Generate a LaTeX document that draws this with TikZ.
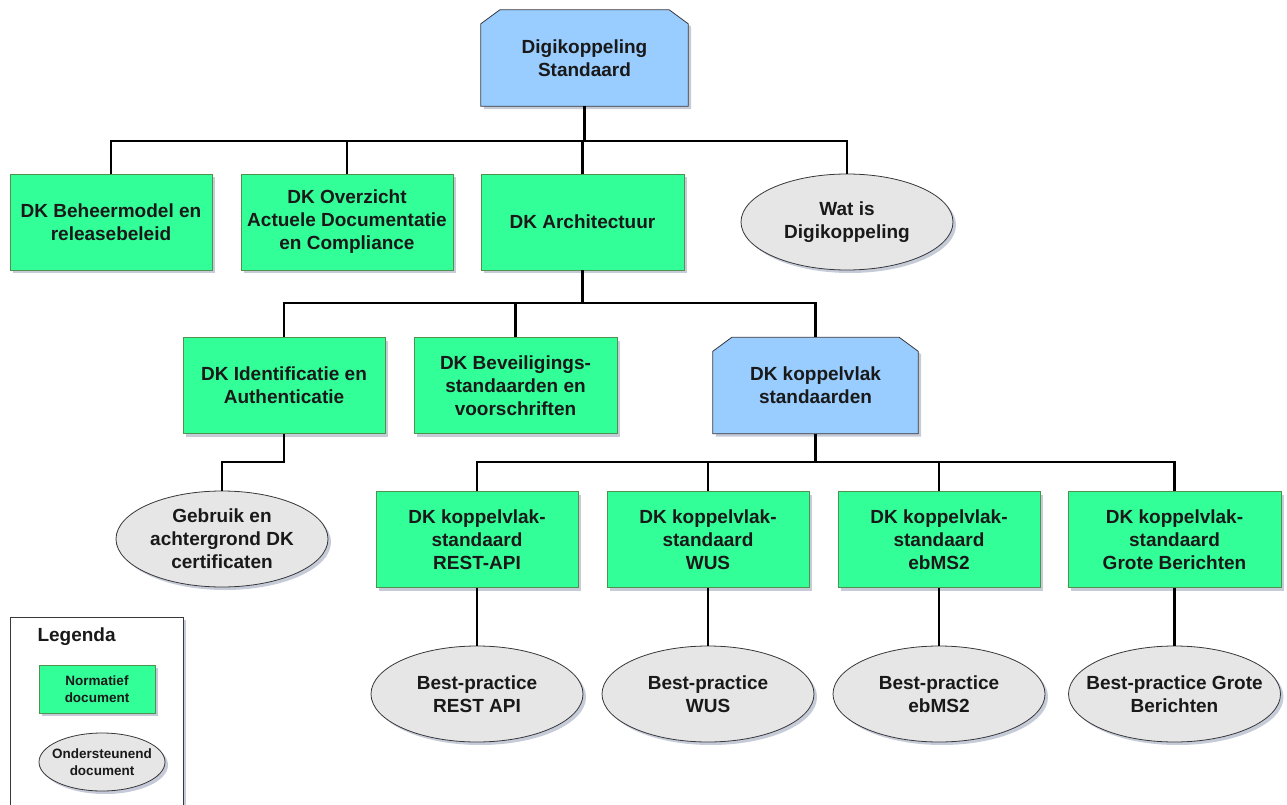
\documentclass[tikz,border=0pt]{standalone}
\usepackage{fontspec}
\setmainfont{Liberation Sans}
\usetikzlibrary{calc}
\usetikzlibrary{shapes.geometric}
\usetikzlibrary{shadows}
\usetikzlibrary{backgrounds}

\definecolor{normgroen}{RGB}{51,255,153}
\definecolor{normrand}{RGB}{80,145,80}
\definecolor{hoofdblauw}{RGB}{153,204,255}
\definecolor{ondgrijs}{RGB}{230,230,230}
\definecolor{rand}{RGB}{55,55,60}
\definecolor{schaduw}{RGB}{160,168,190}

\tikzset{
  schaduwtje/.style={drop shadow={shadow xshift=3pt, shadow yshift=-3pt, fill=schaduw, opacity=0.6}},
  tekst/.style={align=center, text=black!90, font=\bfseries\fontsize{19}{23}\selectfont},
  normdoc/.style={tekst, rectangle, draw=normrand, fill=normgroen, line width=0.8pt, minimum width=202pt, minimum height=96pt, inner sep=2pt, schaduwtje},
  hoofddoc/.style={tekst, rectangle, minimum width=207pt, minimum height=96pt, inner sep=2pt},
  hoofdvorm/.style={draw=rand, fill=hoofdblauw, line width=0.8pt, schaduwtje},
  onddoc/.style={tekst, ellipse, draw=rand, fill=ondgrijs, line width=0.8pt, minimum width=212pt, minimum height=96pt, inner xsep=-20pt, inner ysep=-10pt, schaduwtje},
  lijn/.style={line width=2.6pt, black}
}

\begin{document}
\begin{tikzpicture}[x=1pt, y=-1pt]
    \useasboundingbox (0,0) rectangle (1287,805);

    \coordinate (rij1) at (0,141);
    \coordinate (rij2) at (0,303);
    \coordinate (rij3) at (0,462);

    \node[hoofddoc] (standaard) at (584.5,58) {Digikoppeling\\Standaard};

    \node[normdoc] (beheer) at (111,222) {DK Beheermodel en\\releasebeleid};
    \node[normdoc, minimum width=212pt] (overzicht) at (347,222) {DK Overzicht\\Actuele Documentatie\\en Compliance};
    \node[normdoc, minimum width=203pt] (architectuur) at (582.5,222) {DK Architectuur};
    \node[onddoc] (watis) at (847,222) {Wat is\\Digikoppeling};

    \node[normdoc] (identificatie) at (284,385.5) {DK Identificatie en\\Authenticatie};
    \node[normdoc, minimum width=203pt] (beveiliging) at (515.5,385.5) {DK Beveiligings-\\standaarden en\\voorschriften};
    \node[hoofddoc, minimum width=205pt] (koppelvlak) at (815.5,385.5) {DK koppelvlak\\standaarden};

    \node[onddoc] (certificaten) at (222,539) {Gebruik en\\achtergrond DK\\certificaten};

    \node[normdoc] (rest) at (477,539.5) {DK koppelvlak-\\standaard\\REST-API};
    \node[normdoc] (wus) at (708,539.5) {DK koppelvlak-\\standaard\\WUS};
    \node[normdoc] (ebms) at (939,539.5) {DK koppelvlak-\\standaard\\ebMS2};
    \node[normdoc, minimum width=213pt] (grote) at (1174.5,539.5) {DK koppelvlak-\\standaard\\Grote Berichten};

    \node[onddoc] (bprest) at (477,694) {Best-practice\\REST API};
    \node[onddoc] (bpwus) at (708,694) {Best-practice\\WUS};
    \node[onddoc] (bpebms) at (939,694) {Best-practice\\ebMS2};
    \node[onddoc] (bpgrote) at (1174.5,694) {Best-practice Grote\\Berichten};

    % afgeschuinde vormen achter de blauwe knopen
    \begin{scope}[on background layer]
    \foreach \blok in {standaard,koppelvlak}
        \draw[hoofdvorm] (\blok.south west) -- ($(\blok.north west)+(0,14)$) -- ($(\blok.north west)+(19,0)$)
            -- ($(\blok.north east)+(-19,0)$) -- ($(\blok.north east)+(0,14)$) -- (\blok.south east) -- cycle;
    \end{scope}

    % verbindingen
    \draw[lijn] (standaard.south) -- (standaard.south |- rij1);
    \foreach \kind in {beheer,overzicht,architectuur,watis}
        \draw[lijn] (standaard.south |- rij1) -| (\kind.north);

    \draw[lijn] (architectuur.south) -- (architectuur.south |- rij2);
    \foreach \kind in {identificatie,beveiliging,koppelvlak}
        \draw[lijn] (architectuur.south |- rij2) -| (\kind.north);

    \draw[lijn] (identificatie.south) -- (identificatie.south |- rij3) -| (certificaten.north);

    \draw[lijn] (koppelvlak.south) -- (koppelvlak.south |- rij3);
    \foreach \kind in {rest,wus,ebms,grote}
        \draw[lijn] (koppelvlak.south |- rij3) -| (\kind.north);

    \draw[lijn] (rest) -- (bprest);
    \draw[lijn] (wus) -- (bpwus);
    \draw[lijn] (ebms) -- (bpebms);
    \draw[lijn] (grote) -- (bpgrote);

    % legenda
    \draw[draw=rand, fill=white, line width=0.8pt, schaduwtje] (10,617) rectangle (183,830);
    \node[tekst, anchor=west] (legenda) at (34,637) {Legenda};
    \node[normdoc, minimum width=116pt, minimum height=48pt, font=\bfseries\fontsize{13.5}{17}\selectfont] (lnorm) at (97,689) {Normatief\\document};
    \node[onddoc, minimum width=126pt, minimum height=58pt, font=\bfseries\fontsize{13.5}{17}\selectfont] (lond) at (102,762) {Ondersteunend\\document};

\end{tikzpicture}
\end{document}
